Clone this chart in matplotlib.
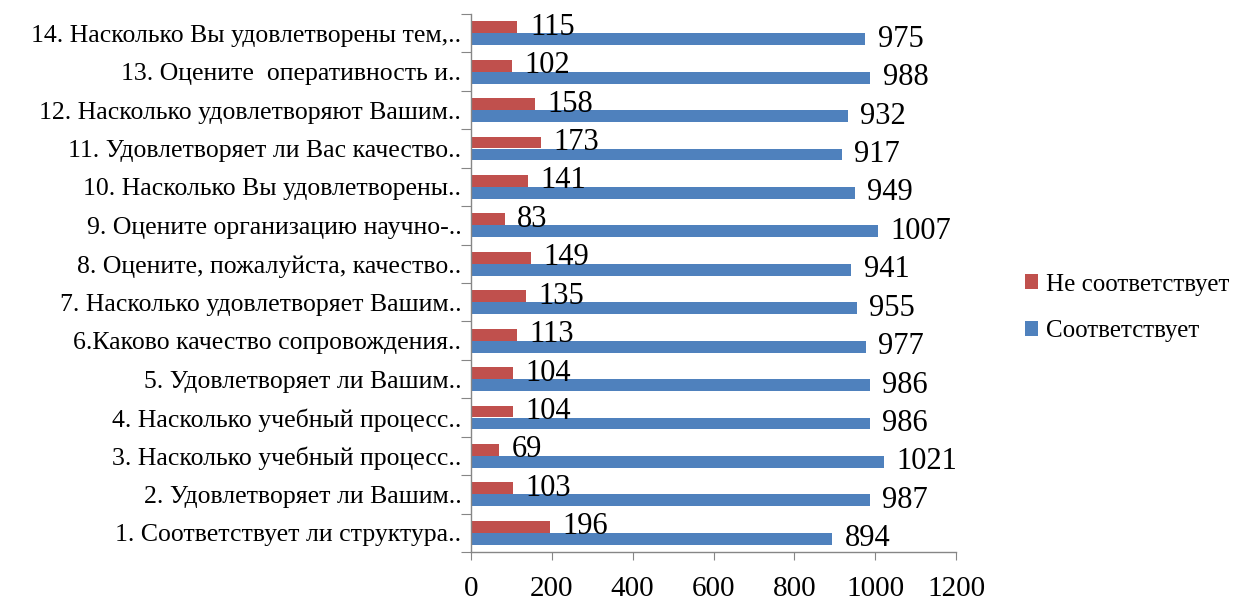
import matplotlib
matplotlib.use("Agg")
import matplotlib.pyplot as plt
import numpy as np

categories = [
    "1. Соответствует ли структура..",
    "2. Удовлетворяет ли Вашим..",
    "3. Насколько учебный процесс..",
    "4. Насколько учебный процесс..",
    "5. Удовлетворяет ли Вашим..",
    "6.Каково качество сопровождения..",
    "7. Насколько удовлетворяет Вашим..",
    "8. Оцените, пожалуйста, качество..",
    "9. Оцените организацию научно-..",
    "10. Насколько Вы удовлетворены..",
    "11. Удовлетворяет ли Вас качество..",
    "12. Насколько удовлетворяют Вашим..",
    "13. Оцените  оперативность и..",
    "14. Насколько Вы удовлетворены тем,..",
]
ne_sootv = [196, 103, 69, 104, 104, 113, 135, 149, 83, 141, 173, 158, 102, 115]
sootv = [894, 987, 1021, 986, 986, 977, 955, 941, 1007, 949, 917, 932, 988, 975]
xticks = [0, 200, 400, 600, 800, 1000, 1200]

plt.rcParams['font.family'] = ['Liberation Serif', 'DejaVu Serif']

RED = '#C0504D'
BLUE = '#4F81BD'
GRAY = '#868686'

fig = plt.figure(figsize=(12.4, 6.01), dpi=100)
ax = fig.add_axes([471/1240, 1-552/601, (956-471)/1240, (552-14)/601])

y = np.arange(len(categories))
h = 0.31
off = 0.156
b_red = ax.barh(y + off, ne_sootv, height=h, color=RED, label='Не соответствует')
b_blue = ax.barh(y - off, sootv, height=h, color=BLUE, label='Соответствует')

for bars in (b_red, b_blue):
    for rect in bars:
        w = rect.get_width()
        ax.annotate(f"{int(w)}", (w, rect.get_y() + rect.get_height()/2),
                    xytext=(9, 0), textcoords='offset points',
                    ha='left', va='center', fontsize=22)

ax.set_xlim(0, 1200)
ax.set_ylim(-0.5, len(categories) - 0.5)
ax.set_xticks(xticks)
ax.set_xticklabels([str(v) for v in xticks], fontsize=21)
ax.tick_params(axis='x', direction='out', length=6, color=GRAY, pad=11)

ax.set_yticks(np.arange(len(categories) + 1) - 0.5)
ax.set_yticklabels([])
ax.set_yticks(y, minor=True)
ax.set_yticklabels(categories, minor=True, fontsize=18.5)
ax.tick_params(axis='y', which='major', direction='out', length=7, color=GRAY)
ax.tick_params(axis='y', which='minor', length=0, pad=7)

for s in ('top', 'right'):
    ax.spines[s].set_visible(False)
for s in ('left', 'bottom'):
    ax.spines[s].set_color(GRAY)
    ax.spines[s].set_linewidth(1)

leg = fig.legend(handles=[b_red, b_blue], labels=['Не соответствует', 'Соответствует'],
                 loc='center left', bbox_to_anchor=(1002/1240, 1-308/601),
                 frameon=False, fontsize=18, handlelength=0.55, handleheight=0.55,
                 handletextpad=0.3, labelspacing=1.0)

fig.savefig('out.png', dpi=100)
